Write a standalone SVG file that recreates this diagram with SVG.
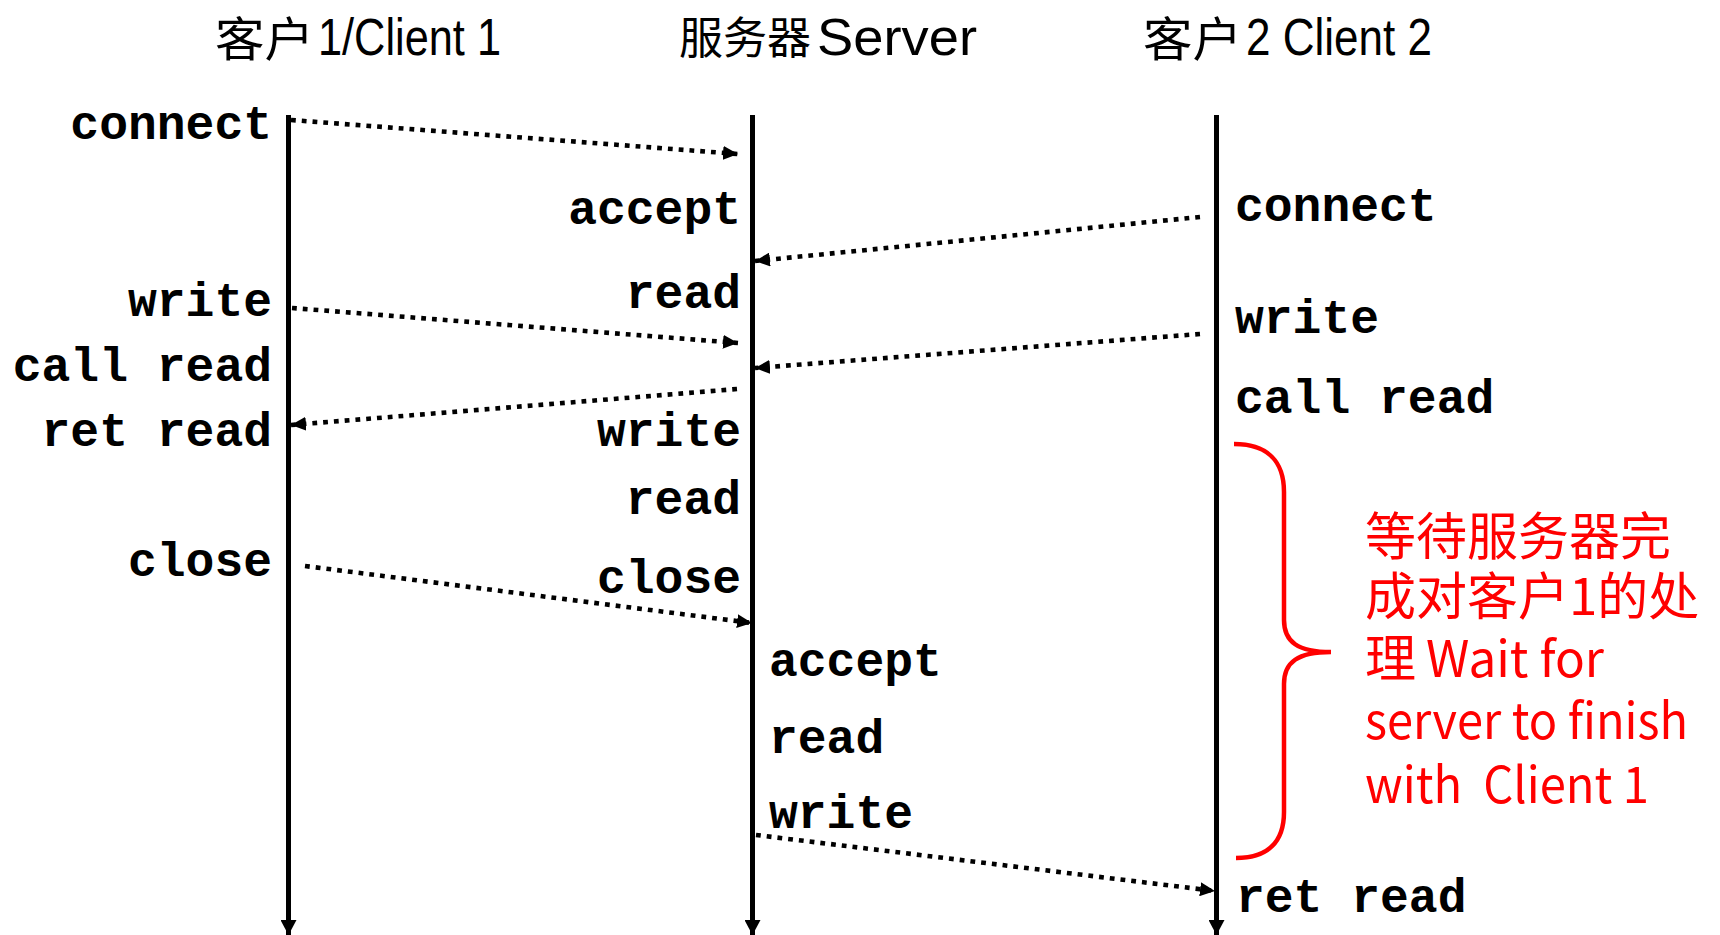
<svg xmlns="http://www.w3.org/2000/svg" width="1720" height="935" viewBox="0 0 1720 935">
  <style>
    .title-cjk { font-family: "Noto Sans CJK SC", sans-serif; fill: #000; }
    .title-lat { font-family: "Liberation Sans Narrow", "Liberation Sans", Arial, sans-serif; font-size: 52px; fill: #000; }
    .call { font-family: "Liberation Mono", "Courier New", monospace; font-weight: bold; font-size: 48px; fill: #000; }
    .lifeline { stroke: #000; stroke-width: 5; fill: none; }
    .msg { stroke: #000; stroke-width: 4.6; stroke-dasharray: 4.8 6; fill: none; }
    .note { font-family: "Noto Sans CJK SC", sans-serif; font-size: 51px; fill: #ff0000; }
    .note-lat { font-family: "Noto Sans CJK SC", "Open Sans", sans-serif; font-size: 50px; fill: #ff0000; white-space: pre; }
  </style>
  <defs>
    <marker id="msgTip" markerUnits="userSpaceOnUse" markerWidth="15" markerHeight="14" refX="15" refY="7" orient="auto">
      <path d="M0,0 L15,7 L0,14 z" fill="#000"/>
    </marker>
    <marker id="lineTip" markerUnits="userSpaceOnUse" markerWidth="15" markerHeight="16" refX="15" refY="8" orient="auto">
      <path d="M0,0 L15,8 L0,16 z" fill="#000"/>
    </marker>
  </defs>
  <rect width="1720" height="935" fill="#fff"/>

  <!-- column headings -->
  <g id="head-client1">
    <text class="title-cjk" x="215" y="56" font-size="47" textLength="99" lengthAdjust="spacingAndGlyphs">客户</text>
    <text class="title-lat" x="318" y="55" textLength="183" lengthAdjust="spacingAndGlyphs">1/Client 1</text>
  </g>
  <g id="head-server">
    <text class="title-cjk" x="679" y="54" font-size="44">服务器</text>
    <text class="title-lat" x="817" y="55" textLength="160" lengthAdjust="spacingAndGlyphs">Server</text>
  </g>
  <g id="head-client2">
    <text class="title-cjk" x="1143" y="56" font-size="47" textLength="99" lengthAdjust="spacingAndGlyphs">客户</text>
    <text class="title-lat" x="1246" y="55" textLength="186" lengthAdjust="spacingAndGlyphs">2 Client 2</text>
  </g>

  <!-- time lines -->
  <g id="lifelines">
    <line id="life-client1" class="lifeline" x1="288.5" y1="115" x2="288.5" y2="935" marker-end="url(#lineTip)"/>
    <line id="life-server" class="lifeline" x1="752.5" y1="115" x2="752.5" y2="935" marker-end="url(#lineTip)"/>
    <line id="life-client2" class="lifeline" x1="1216.5" y1="115" x2="1216.5" y2="935" marker-end="url(#lineTip)"/>
  </g>

  <!-- client 1 calls -->
  <g id="client1-calls">
    <text class="call" x="272" y="139" text-anchor="end">connect</text>
    <text class="call" x="272" y="316" text-anchor="end">write</text>
    <text class="call" x="272" y="381" text-anchor="end">call read</text>
    <text class="call" x="272" y="446" text-anchor="end">ret read</text>
    <text class="call" x="272" y="576" text-anchor="end">close</text>
  </g>

  <!-- server calls -->
  <g id="server-calls">
    <text class="call" x="741" y="224" text-anchor="end">accept</text>
    <text class="call" x="741" y="308" text-anchor="end">read</text>
    <text class="call" x="741" y="446" text-anchor="end">write</text>
    <text class="call" x="741" y="514" text-anchor="end">read</text>
    <text class="call" x="741" y="593" text-anchor="end">close</text>
    <text class="call" x="769" y="676">accept</text>
    <text class="call" x="769" y="753">read</text>
    <text class="call" x="769" y="828">write</text>
  </g>

  <!-- client 2 calls -->
  <g id="client2-calls">
    <text class="call" x="1235" y="221">connect</text>
    <text class="call" x="1235" y="333">write</text>
    <text class="call" x="1235" y="413">call read</text>
    <text class="call" x="1236" y="912">ret read</text>
  </g>

  <!-- messages -->
  <g id="messages">
    <path class="msg" d="M291,120 L738,154" marker-end="url(#msgTip)"/>
    <path class="msg" d="M1200,217 L755,261" marker-end="url(#msgTip)"/>
    <path class="msg" d="M292,308 L738,343" marker-end="url(#msgTip)"/>
    <path class="msg" d="M1200,334 L755,368" marker-end="url(#msgTip)"/>
    <path class="msg" d="M737,389 L291,425" marker-end="url(#msgTip)"/>
    <path class="msg" d="M305,566 L752,623" marker-end="url(#msgTip)"/>
    <path class="msg" d="M756,835 L1215,891" marker-end="url(#msgTip)"/>
  </g>

  <!-- waiting interval of client 2 -->
  <g id="wait-note">
    <path d="M1234,444 C1268,444 1284,462 1284,492 L1284,620 C1284,642 1298,652 1331,652 C1298,652 1284,662 1284,684 L1284,812 C1284,842 1268,858 1236,858" fill="none" stroke="#ff0000" stroke-width="4.5"/>
    <text class="note" x="1365" y="555">等待服务器完</text>
    <text class="note" x="1365" y="615">成对客户1的处</text>
    <text class="note" x="1365" y="677">理</text>
    <text class="note-lat" x="1426" y="677" textLength="178" lengthAdjust="spacingAndGlyphs">Wait for</text>
    <text class="note-lat" x="1365" y="739" textLength="323" lengthAdjust="spacingAndGlyphs">server to finish</text>
    <text class="note-lat" x="1365" y="803" textLength="284" lengthAdjust="spacingAndGlyphs">with  Client 1</text>
  </g>
</svg>
